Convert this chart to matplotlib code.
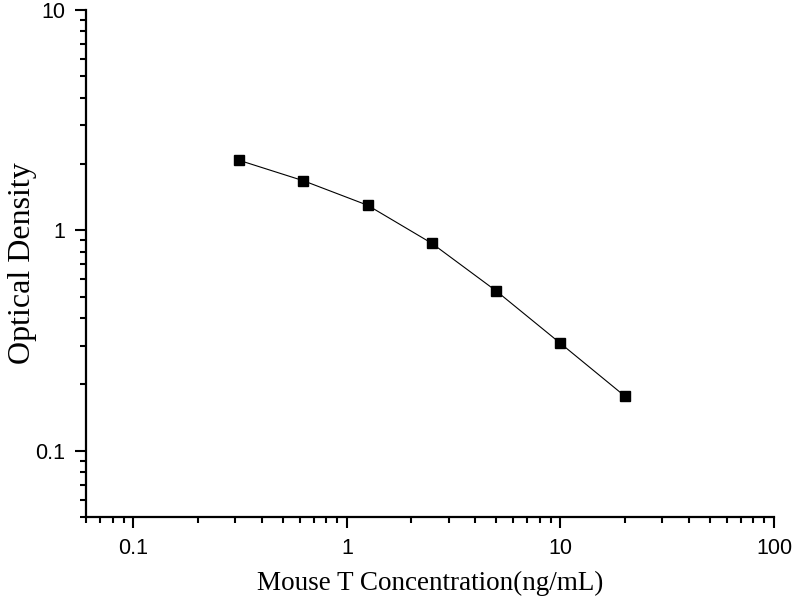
import matplotlib
matplotlib.use("Agg")
import matplotlib.pyplot as plt
from matplotlib.ticker import LogLocator, FixedFormatter, FixedLocator, NullFormatter

plt.rcParams["font.family"] = "Liberation Sans"

# standard curve readings
concentration = [0.3125, 0.625, 1.25, 2.5, 5, 10, 20]
optical_density = [2.08, 1.68, 1.30, 0.873, 0.531, 0.307, 0.177]

x_ticks = [0.1, 1, 10, 100]
x_tick_labels = ["0.1", "1", "10", "100"]
y_ticks = [0.1, 1, 10]
y_tick_labels = ["0.1", "1", "10"]

fig = plt.figure(figsize=(8, 6), dpi=100)
ax = fig.add_axes([0.1075, 0.1383, 0.86, 0.845])

ax.plot(concentration, optical_density, color="black", linewidth=0.8,
        marker="s", markersize=7.5, markerfacecolor="black", markeredgecolor="black")

ax.set_xscale("log")
ax.set_yscale("log")
ax.set_xlim(0.06, 100)
ax.set_ylim(0.05, 10)

ax.xaxis.set_major_locator(FixedLocator(x_ticks))
ax.xaxis.set_major_formatter(FixedFormatter(x_tick_labels))
ax.yaxis.set_major_locator(FixedLocator(y_ticks))
ax.yaxis.set_major_formatter(FixedFormatter(y_tick_labels))
ax.xaxis.set_minor_locator(LogLocator(base=10, subs=range(2, 10), numticks=20))
ax.yaxis.set_minor_locator(LogLocator(base=10, subs=range(2, 10), numticks=20))
ax.xaxis.set_minor_formatter(NullFormatter())
ax.yaxis.set_minor_formatter(NullFormatter())

for side in ["top", "right"]:
    ax.spines[side].set_visible(False)
for side in ["left", "bottom"]:
    ax.spines[side].set_linewidth(1.6)

ax.tick_params(which="major", direction="out", length=8, width=1.5, pad=7,
               labelsize=15.5)
ax.tick_params(which="minor", direction="out", length=4, width=1.5)

ax.set_xlabel("Mouse T Concentration(ng/mL)", fontfamily="Liberation Serif",
              fontsize=19.5, labelpad=9)
ax.set_ylabel("Optical Density", fontfamily="Liberation Serif", fontsize=23)
ax.yaxis.set_label_coords(-0.071, 0.5)

fig.savefig("out.png", dpi=100)
